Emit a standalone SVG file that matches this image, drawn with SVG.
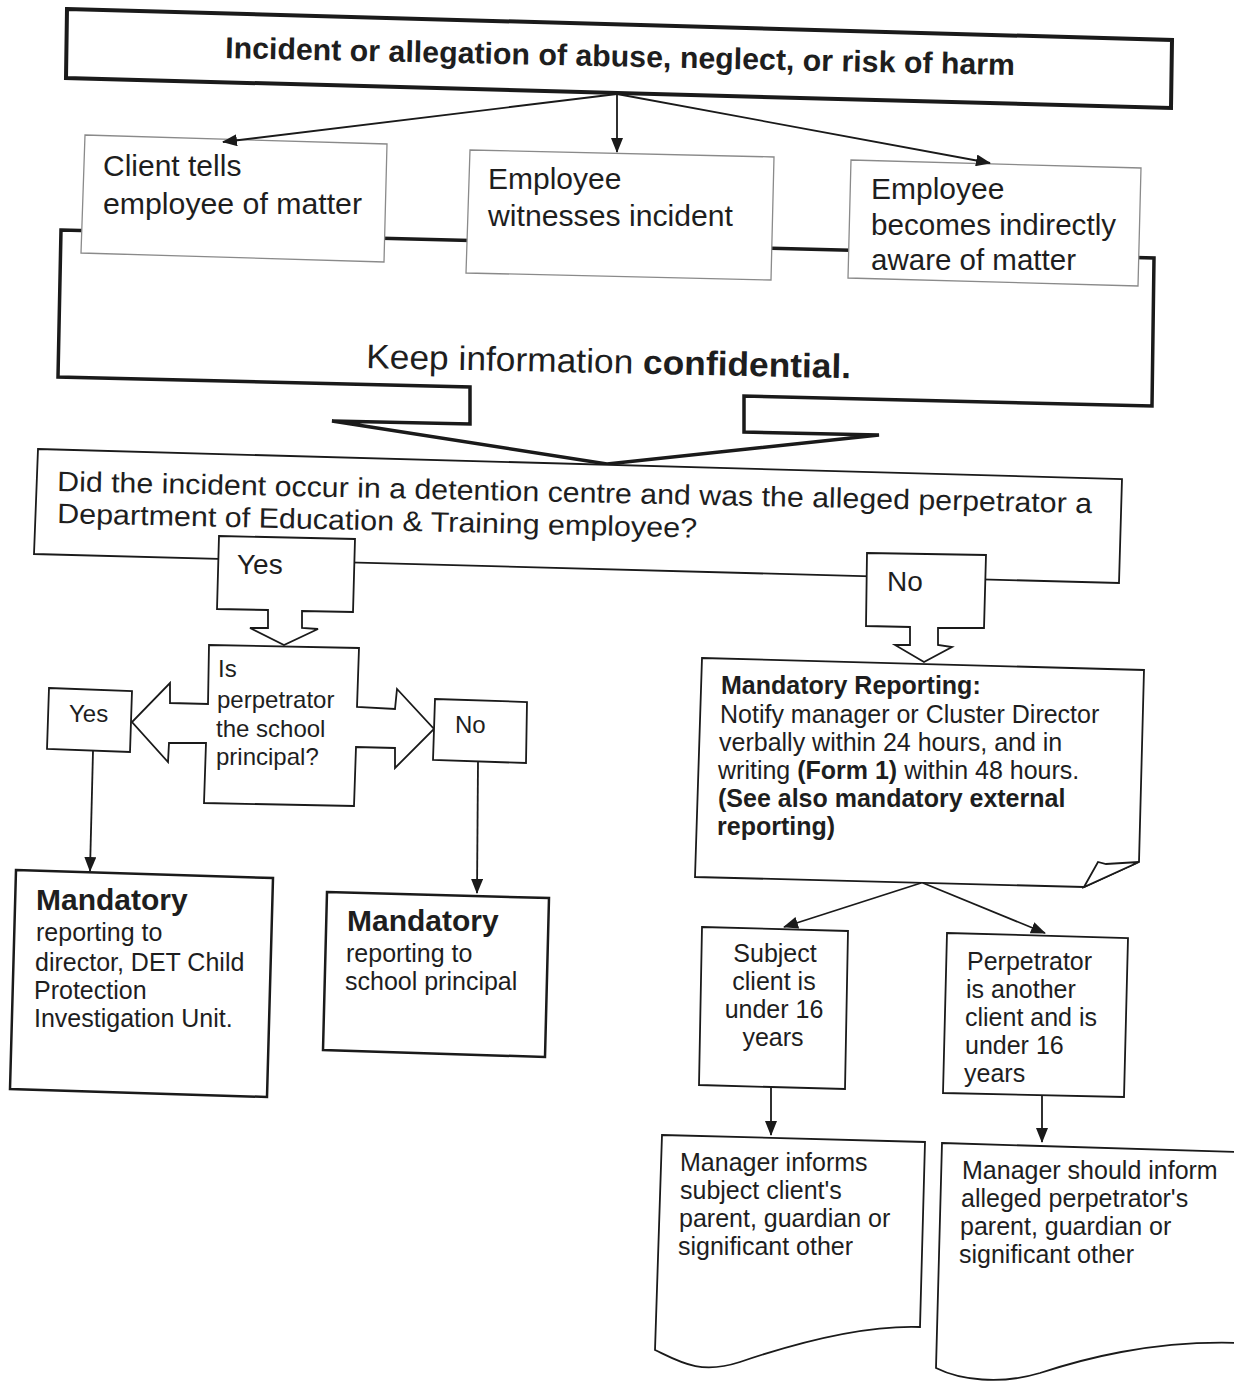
<svg xmlns="http://www.w3.org/2000/svg" width="1234" height="1383" viewBox="0 0 1234 1383">
  <defs>
    <marker id="ah" viewBox="0 0 15 12" refX="14" refY="6" markerWidth="15" markerHeight="12" markerUnits="userSpaceOnUse" orient="auto">
      <path d="M0,0 L15,6 L0,12 Z" fill="#1a1a1a"/>
    </marker>
    <style>
      text { font-family: "Liberation Sans", Arial, sans-serif; fill: #1e1e1e; }
      .shape { fill: #fff; stroke: #1a1a1a; stroke-linejoin: miter; }
      .thick { stroke-width: 4; }
      .heavy { stroke-width: 3.5; }
      .mid { stroke-width: 2.5; }
      .thin { stroke-width: 1.8; }
      .grey { fill: #fff; stroke: #8a8a8a; stroke-width: 1.3; }
      .conn { fill: none; stroke: #1a1a1a; stroke-width: 1.8; marker-end: url(#ah); }
      .t30 { font-size: 30px; }
      .t28 { font-size: 28px; }
      .t25 { font-size: 25px; }
      .t24 { font-size: 24px; }
      .b { font-weight: bold; }
    </style>
  </defs>
  <rect width="1234" height="1383" fill="#fff"/>

  <!-- Confidentiality callout sitting behind the three source boxes -->
  <g id="confidential">
    <polygon class="shape heavy" points="61,230 1154,258 1152,406 744,396 744,432 879,435 607,464 332,421 470,424 470,387 58,377"/>
    <text x="366" y="368" textLength="485" lengthAdjust="spacingAndGlyphs" transform="rotate(1.2 366 368)" style="font-size:34px">Keep information <tspan class="b">confidential.</tspan></text>
  </g>

  <!-- Top event -->
  <g id="incident">
    <polygon class="shape thick" points="67,9 1172,40 1171,108 66,78"/>
    <text class="t30 b" x="225" y="58" textLength="790" lengthAdjust="spacingAndGlyphs" transform="rotate(1.23 225 58)">Incident or allegation of abuse, neglect, or risk of harm</text>
  </g>

  <!-- Three ways the matter becomes known -->
  <g id="client-tells">
    <polygon class="grey" points="85,135 387,144 384,262 81,253"/>
    <text class="t30" x="103" y="176">Client tells</text>
    <text class="t30" x="103" y="214" textLength="259" lengthAdjust="spacingAndGlyphs">employee of matter</text>
  </g>
  <g id="employee-witnesses">
    <polygon class="grey" points="470,150 774,157 771,280 466,273"/>
    <text class="t30" x="488" y="189">Employee</text>
    <text class="t30" x="488" y="226" textLength="245" lengthAdjust="spacingAndGlyphs">witnesses incident</text>
  </g>
  <g id="employee-indirect">
    <polygon class="grey" points="851,160 1141,168 1138,286 848,278"/>
    <text class="t30" x="871" y="199">Employee</text>
    <text class="t30" x="871" y="235" textLength="245" lengthAdjust="spacingAndGlyphs">becomes indirectly</text>
    <text class="t30" x="871" y="270" textLength="205" lengthAdjust="spacingAndGlyphs">aware of matter</text>
  </g>

  <!-- Detention centre question -->
  <g id="question-detention">
    <polygon class="shape thin" points="38,449 1122,479 1119,583 34,554"/>
    <text class="t28" x="57" y="491" textLength="1035" lengthAdjust="spacingAndGlyphs" transform="rotate(1.22 57 491)">Did the incident occur in a detention centre and was the alleged perpetrator a</text>
    <text class="t28" x="57" y="523" textLength="640" lengthAdjust="spacingAndGlyphs" transform="rotate(1.3 57 523)">Department of Education &amp; Training employee?</text>
  </g>

  <!-- Yes / No block arrows -->
  <g id="answer-yes">
    <polygon class="shape thin" points="219,536 355,539 353,612 302,611 302,628 318,629 284,645 250,628 268,628 268,610 217,609"/>
    <text class="t28" x="237" y="574">Yes</text>
  </g>
  <g id="answer-no">
    <polygon class="shape thin" points="867,553 986,555 984,628 938,628 938,645 952,647 924,662 895,645 910,645 910,627 866,626"/>
    <text class="t28" x="887" y="591">No</text>
  </g>

  <!-- School principal question with double block arrow -->
  <g id="question-principal">
    <polygon class="shape thin" points="209,645 359,648 357,707 395,709 397,689 434,729 395,768 395,748 356,747 354,806 204,803 206,743 169,743 168,762 132,722 170,683 170,703 208,704"/>
    <text class="t24" x="218" y="677">Is</text>
    <text class="t24" x="217" y="708">perpetrator</text>
    <text class="t24" x="216" y="737">the school</text>
    <text class="t24" x="216" y="765">principal?</text>
  </g>
  <g id="principal-yes">
    <polygon class="shape thin" points="49,688 132,691 130,752 47,749"/>
    <text class="t24" x="69" y="722">Yes</text>
  </g>
  <g id="principal-no">
    <polygon class="shape thin" points="435,699 527,702 526,763 433,760"/>
    <text class="t24" x="455" y="733">No</text>
  </g>

  <!-- Reporting outcomes inside the detention centre -->
  <g id="report-det">
    <polygon class="shape mid" points="16,870 273,878 267,1097 10,1089"/>
    <text class="t30 b" x="36" y="910">Mandatory</text>
    <text class="t25" x="36" y="941">reporting to</text>
    <text class="t25" x="35" y="971">director, DET Child</text>
    <text class="t25" x="34" y="999">Protection</text>
    <text class="t25" x="34" y="1027">Investigation Unit.</text>
  </g>
  <g id="report-principal">
    <polygon class="shape mid" points="327,892 549,898 545,1057 323,1050"/>
    <text class="t30 b" x="347" y="931">Mandatory</text>
    <text class="t25" x="346" y="962">reporting to</text>
    <text class="t25" x="345" y="990">school principal</text>
  </g>

  <!-- Mandatory reporting note with curled corner -->
  <g id="mandatory-reporting">
    <polygon class="shape thin" points="702,658 1144,670 1139,862 1084,887 695,877"/>
    <polygon class="shape thin" points="1084,887 1098,862 1106,864 1139,862"/>
    <text class="t25 b" x="721" y="694">Mandatory Reporting:</text>
    <text class="t25" x="720" y="723">Notify manager or Cluster Director</text>
    <text class="t25" x="719" y="751">verbally within 24 hours, and in</text>
    <text class="t25" x="718" y="779">writing <tspan class="b">(Form 1)</tspan> within 48 hours.</text>
    <text class="t25 b" x="718" y="807">(See also mandatory external</text>
    <text class="t25 b" x="717" y="835">reporting)</text>
  </g>

  <!-- Age checks -->
  <g id="subject-under-16">
    <polygon class="shape thin" points="702,927 848,931 845,1089 699,1085"/>
    <g text-anchor="middle">
      <text class="t25" x="775" y="962">Subject</text>
      <text class="t25" x="774" y="990">client is</text>
      <text class="t25" x="774" y="1018">under 16</text>
      <text class="t25" x="773" y="1046">years</text>
    </g>
  </g>
  <g id="perpetrator-under-16">
    <polygon class="shape thin" points="947,933 1128,938 1124,1097 943,1093"/>
    <text class="t25" x="967" y="970">Perpetrator</text>
    <text class="t25" x="966" y="998">is another</text>
    <text class="t25" x="965" y="1026">client and is</text>
    <text class="t25" x="965" y="1054">under 16</text>
    <text class="t25" x="964" y="1082">years</text>
  </g>

  <!-- Notification documents -->
  <g id="inform-subject-guardian">
    <path class="shape thin" d="M662,1135 L925,1142 L920,1327 C860,1325 790,1345 740,1362 C700,1375 680,1362 655,1350 Z"/>
    <text class="t25" x="680" y="1171">Manager informs</text>
    <text class="t25" x="680" y="1199">subject client's</text>
    <text class="t25" x="679" y="1227">parent, guardian or</text>
    <text class="t25" x="678" y="1255">significant other</text>
  </g>
  <g id="inform-perpetrator-guardian">
    <path class="shape thin" d="M942,1143 L1240,1152 L1240,1343 C1150,1340 1080,1360 1040,1373 C1000,1385 960,1380 936,1368 Z"/>
    <text class="t25" x="962" y="1179">Manager should inform</text>
    <text class="t25" x="961" y="1207">alleged perpetrator's</text>
    <text class="t25" x="960" y="1235">parent, guardian or</text>
    <text class="t25" x="959" y="1263">significant other</text>
  </g>

  <!-- Connectors -->
  <g id="connectors">
    <line class="conn" x1="617" y1="94" x2="223" y2="142"/>
    <line class="conn" x1="617" y1="94" x2="617" y2="152"/>
    <line class="conn" x1="617" y1="94" x2="990" y2="163"/>
    <line class="conn" x1="93" y1="751" x2="90" y2="871"/>
    <line class="conn" x1="478" y1="762" x2="477" y2="893"/>
    <line class="conn" x1="921" y1="883" x2="784" y2="927"/>
    <line class="conn" x1="923" y1="883" x2="1045" y2="933"/>
    <line class="conn" x1="771" y1="1088" x2="771" y2="1135"/>
    <line class="conn" x1="1042" y1="1096" x2="1042" y2="1142"/>
  </g>
</svg>
